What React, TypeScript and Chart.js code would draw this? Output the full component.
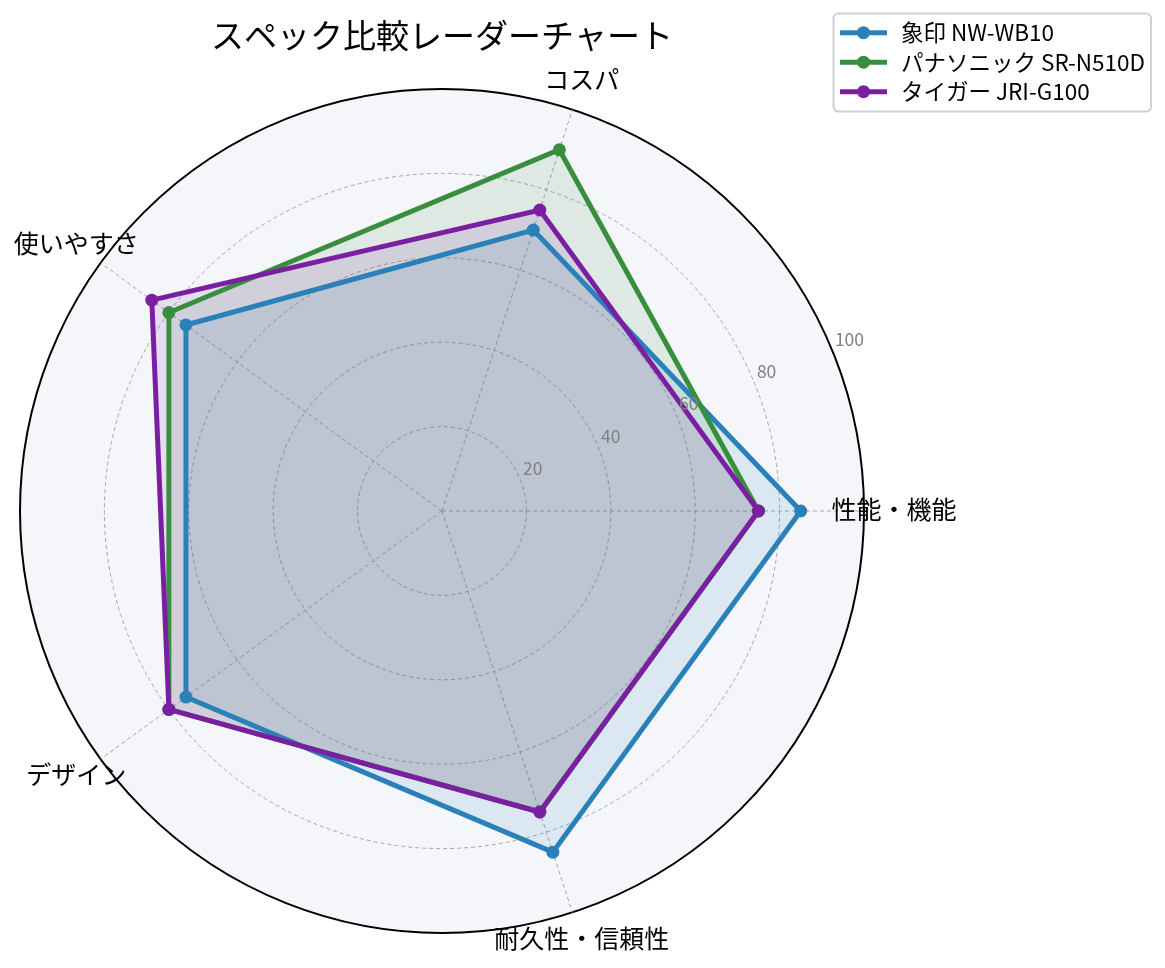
import React, { useEffect, useRef } from 'react';
import { Chart, registerables } from 'chart.js';

Chart.register(...registerables);

// ---- data (reference order: counter-clockwise from the right) ----
const CATEGORIES = ['性能・機能', 'コスパ', '使いやすさ', 'デザイン', '耐久性・信頼性'];
const SERIES_NAMES = ['象印 NW-WB10', 'パナソニック SR-N510D', 'タイガー JRI-G100'];
const ZOJIRUSHI = [85, 70, 75, 75, 85];
const PANASONIC = [75, 90, 80, 80, 75];
const TIGER = [75, 75, 85, 80, 75];
const TICK_VALUES = [20, 40, 60, 80, 100];
const TITLE = 'スペック比較レーダーチャート';

const COLORS = ['#2a80b9', '#388e3c', '#7b1fa2'];
const FILLS = ['rgba(42,128,185,0.12)', 'rgba(56,142,60,0.12)', 'rgba(123,31,162,0.12)'];

// Chart.js walks clockwise; reference walks counter-clockwise from the right.
const ORDER = [0, 4, 3, 2, 1];
const reorder = <T,>(arr: T[]): T[] => ORDER.map((i) => arr[i]);

const FONT = '"Noto Sans CJK JP", "Noto Sans", sans-serif';

const overlayPlugin = {
  id: 'overlay',
  afterDraw(chart: any) {
    const ctx: CanvasRenderingContext2D = chart.ctx;
    const scale = chart.scales.r;
    ctx.save();

    // category labels
    ctx.fillStyle = '#000';
    ctx.font = `25px ${FONT}`;
    ctx.textAlign = 'center';
    ctx.textBaseline = 'middle';
    (chart.data.labels as string[]).forEach((lab, i) => {
      const p = scale.getPointPosition(i, scale.drawingArea + 30);
      ctx.fillText(lab, p.x, p.y - 2);
    });

    // radial tick labels at 22.5°
    const a = (22.5 * Math.PI) / 180;
    ctx.fillStyle = '#808080';
    ctx.font = `17.5px ${FONT}`;
    ctx.textAlign = 'left';
    ctx.textBaseline = 'middle';
    TICK_VALUES.forEach((v) => {
      const d = scale.getDistanceFromCenterForValue(v);
      const x = scale.xCenter + d * Math.cos(a);
      const y = scale.yCenter - d * Math.sin(a);
      ctx.fillText(String(v), x + 3, y - 10.5);
    });

    // title
    ctx.fillStyle = '#000';
    ctx.font = `33px ${FONT}`;
    ctx.textAlign = 'center';
    ctx.textBaseline = 'middle';
    ctx.fillText(TITLE, scale.xCenter, 35);

    // legend
    const bx = 833.5, by = 13.5, bw = 317.5, bh = 98;
    ctx.beginPath();
    ctx.roundRect(bx, by, bw, bh, 5);
    ctx.fillStyle = '#fff';
    ctx.fill();
    ctx.lineWidth = 2;
    ctx.strokeStyle = '#d0d0d0';
    ctx.stroke();
    ctx.font = `22.5px ${FONT}`;
    ctx.textAlign = 'left';
    ctx.textBaseline = 'middle';
    chart.data.datasets.forEach((ds: any, i: number) => {
      const y = 32.7 + i * 29.5;
      ctx.beginPath();
      ctx.moveTo(840, y);
      ctx.lineTo(887, y);
      ctx.strokeStyle = ds.borderColor;
      ctx.lineWidth = 5;
      ctx.stroke();
      ctx.beginPath();
      ctx.arc(863.5, y, 6.5, 0, Math.PI * 2);
      ctx.fillStyle = ds.borderColor;
      ctx.fill();
      ctx.fillStyle = '#000';
      ctx.fillText(ds.label, 901, y);
    });

    ctx.restore();
  },
};

export default function App() {
  const ref = useRef<HTMLCanvasElement | null>(null);

  useEffect(() => {
    if (!ref.current) return;
    const series = [ZOJIRUSHI, PANASONIC, TIGER];
    const chart = new Chart(ref.current, {
      type: 'radar',
      data: {
        labels: reorder(CATEGORIES),
        datasets: series.map((s, i) => ({
          label: SERIES_NAMES[i],
          data: reorder(s),
          borderColor: COLORS[i],
          backgroundColor: FILLS[i],
          pointBackgroundColor: COLORS[i],
          pointBorderColor: COLORS[i],
          pointRadius: 6.5,
          pointBorderWidth: 0,
          pointHoverRadius: 6.5,
          borderWidth: 5,
          fill: true,
          tension: 0,
          order: 2 - i,
        })),
      },
      options: {
        responsive: false,
        animation: false,
        devicePixelRatio: 1,
        layout: { padding: { left: 20, right: 301, top: 89, bottom: 35 } },
        plugins: {
          legend: { display: false },
          title: { display: false },
          tooltip: { enabled: false },
          filler: { drawTime: 'beforeDatasetsDraw' },
        },
        elements: { line: { borderJoinStyle: 'miter' } },
        scales: {
          r: {
            min: 0,
            max: 100,
            startAngle: 90,
            backgroundColor: '#f4f6fa',
            ticks: { stepSize: 20, display: false },
            pointLabels: { display: false },
            grid: {
              circular: true,
              color: (c: any) => (c.tick && c.tick.value === 100 ? '#000' : '#a6a6a6'),
              lineWidth: (c: any) => (c.tick && c.tick.value === 100 ? 2 : 1),
            },
            border: {
              dash: (c: any) => (c.tick && c.tick.value === 100 ? [] : [4, 3]),
            } as any,
            angleLines: { color: '#a6a6a6', lineWidth: 1, borderDash: [4, 3] },
          },
        },
      } as any,
      plugins: [overlayPlugin],
    });
    return () => chart.destroy();
  }, []);

  return (
    <div style={{ position: 'absolute', left: 0, top: 0, width: 1165, height: 968, background: '#fff' }}>
      <canvas ref={ref} width={1165} height={968} style={{ display: 'block' }} />
    </div>
  );
}
